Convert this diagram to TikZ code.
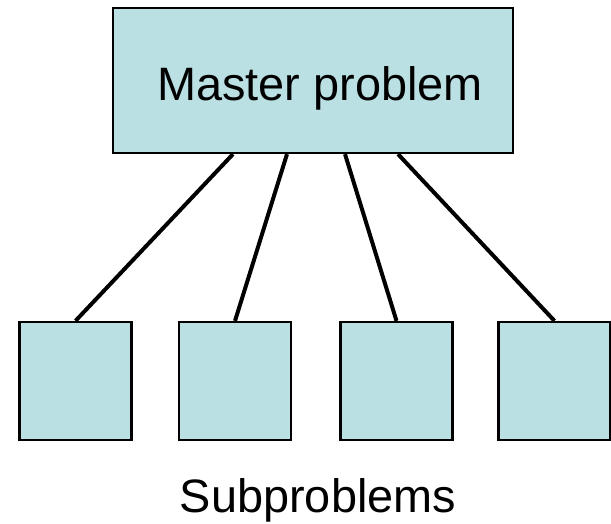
\documentclass[tikz,border=0pt]{standalone}
\usepackage{fontspec}
\setmainfont{Liberation Sans}
\usepackage{xcolor}
\definecolor{boxfill}{HTML}{BBE0E3}
\usepackage{tikz}
\usetikzlibrary{positioning,calc}

\begin{document}
\begin{tikzpicture}[x=0.03cm, y=-0.03cm,
    probbox/.style={rectangle, draw=black, fill=boxfill, line width=1.9pt, inner sep=0pt},
    subbox/.style={probbox, minimum width=3.36cm, minimum height=3.54cm},
    link/.style={draw=black, line width=3.4pt},
    label/.style={font=\fontsize{40}{44}\selectfont, inner sep=0pt}]
  \useasboundingbox (0,0) rectangle (611,523);
  % master problem on top
  \node[probbox, minimum width=12cm, minimum height=4.35cm] (master) at (313, 80.5) {};
  \node[label, anchor=base] (mastertext) at (320, 100) {Master problem};
  % the four subproblems
  \node[subbox] (sub1) at (75.5, 381) {};
  \node[subbox] (sub2) at (235, 381) {};
  \node[subbox] (sub3) at (396.5, 381) {};
  \node[subbox] (sub4) at (554.5, 381) {};
  \draw[link] ([xshift=-2.4cm]master.south) -- (sub1.north);
  \draw[link] ([xshift=-0.78cm]master.south) -- (sub2.north);
  \draw[link] ([xshift=0.96cm]master.south) -- (sub3.north);
  \draw[link] ([xshift=2.55cm]master.south) -- (sub4.north);
  \node[label, anchor=base] (subtext) at (318, 512) {Subproblems};
\end{tikzpicture}
\end{document}
